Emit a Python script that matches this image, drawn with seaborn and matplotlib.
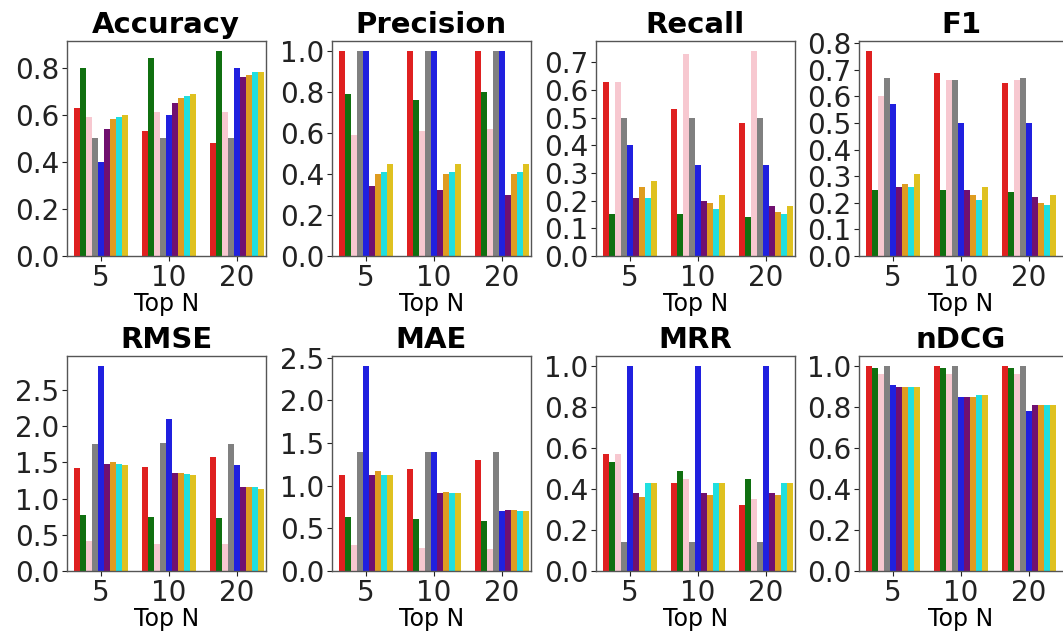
import matplotlib
matplotlib.use("Agg")
import matplotlib.pyplot as plt
from matplotlib.ticker import MultipleLocator
import numpy as np
import pandas as pd
import seaborn as sns

# ---------------- data ----------------
top_n = ["5", "10", "20"]
methods = ["M1", "M2", "M3", "M4", "M5", "M6", "M7", "M8", "M9"]
colors = ["red", "green", "pink", "gray", "blue", "purple", "orange", "cyan", "gold"]

# each row = one Top-N group (5, 10, 20); each column = one method
accuracy = [[0.63, 0.80, 0.59, 0.50, 0.40, 0.54, 0.58, 0.59, 0.60],
            [0.53, 0.84, 0.61, 0.50, 0.60, 0.65, 0.67, 0.68, 0.69],
            [0.48, 0.87, 0.61, 0.50, 0.80, 0.76, 0.77, 0.78, 0.78]]
precision = [[1.00, 0.79, 0.59, 1.00, 1.00, 0.34, 0.40, 0.41, 0.45],
             [1.00, 0.76, 0.61, 1.00, 1.00, 0.32, 0.40, 0.41, 0.45],
             [1.00, 0.80, 0.62, 1.00, 1.00, 0.30, 0.40, 0.41, 0.45]]
recall = [[0.63, 0.15, 0.63, 0.50, 0.40, 0.21, 0.25, 0.21, 0.27],
          [0.53, 0.15, 0.73, 0.50, 0.33, 0.20, 0.19, 0.17, 0.22],
          [0.48, 0.14, 0.74, 0.50, 0.33, 0.18, 0.16, 0.15, 0.18]]
f1 = [[0.77, 0.25, 0.60, 0.67, 0.57, 0.26, 0.27, 0.26, 0.31],
      [0.69, 0.25, 0.66, 0.66, 0.50, 0.25, 0.23, 0.21, 0.26],
      [0.65, 0.24, 0.66, 0.67, 0.50, 0.22, 0.20, 0.19, 0.23]]
rmse = [[1.42, 0.78, 0.41, 1.75, 2.83, 1.48, 1.50, 1.48, 1.46],
        [1.44, 0.75, 0.38, 1.77, 2.10, 1.35, 1.35, 1.34, 1.32],
        [1.58, 0.73, 0.38, 1.75, 1.47, 1.16, 1.16, 1.16, 1.14]]
mae = [[1.13, 0.63, 0.30, 1.39, 2.40, 1.13, 1.17, 1.13, 1.12],
       [1.19, 0.61, 0.27, 1.39, 1.40, 0.91, 0.93, 0.91, 0.91],
       [1.30, 0.59, 0.26, 1.39, 0.70, 0.71, 0.71, 0.70, 0.70]]
mrr = [[0.57, 0.53, 0.57, 0.14, 1.00, 0.38, 0.36, 0.43, 0.43],
       [0.43, 0.49, 0.45, 0.14, 1.00, 0.38, 0.37, 0.43, 0.43],
       [0.32, 0.45, 0.35, 0.14, 1.00, 0.38, 0.37, 0.43, 0.43]]
ndcg = [[1.00, 0.99, 0.96, 1.00, 0.91, 0.90, 0.90, 0.90, 0.90],
        [1.00, 0.99, 0.96, 1.00, 0.85, 0.85, 0.85, 0.86, 0.86],
        [1.00, 0.99, 0.96, 1.00, 0.78, 0.81, 0.81, 0.81, 0.81]]

metric_names = ["Accuracy", "Precision", "Recall", "F1", "RMSE", "MAE", "MRR", "nDCG"]
metric_values = [accuracy, precision, recall, f1, rmse, mae, mrr, ndcg]
tick_steps = [0.2, 0.2, 0.1, 0.1, 0.5, 0.5, 0.2, 0.2]

# ---------------- figure ----------------
W, H = 1063, 631
fig = plt.figure(figsize=(W / 100, H / 100), dpi=100)
plt.rcParams['font.family'] = ['DejaVu Sans']

px_per_unit = 68.0
col_left = [67, 332, 596, 859]
row_bottom = [256, 571]
ax_h = 215

for i, (name, vals, step) in enumerate(zip(metric_names, metric_values, tick_steps)):
    r, c = divmod(i, 4)
    last_col = (c == 3)
    xmax = 2.5 if last_col else 2.42
    w = (xmax + 0.5) * px_per_unit
    ax = fig.add_axes([col_left[c] / W, (H - row_bottom[r]) / H, w / W, ax_h / H])

    rows = []
    for g, grp in enumerate(top_n):
        for m, meth in enumerate(methods):
            rows.append({"Top N": grp, "Method": meth, "Value": vals[g][m]})
    df = pd.DataFrame(rows)

    sns.barplot(data=df, x="Top N", y="Value", hue="Method", order=top_n,
                hue_order=methods, palette=colors, ax=ax, legend=False)
    ymax = max(max(v) for v in vals) * 1.05
    ax.set_ylim(0, ymax)
    ax.set_xlim(-0.5, xmax)
    ax.yaxis.set_major_locator(MultipleLocator(step))
    ax.set_title(name, fontsize=21, fontweight="bold", pad=6)
    ax.set_xlabel("Top N", fontsize=17, labelpad=0)
    ax.set_ylabel("")
    ax.tick_params(axis="both", labelsize=20, colors="#222222", pad=2)
    for sp in ax.spines.values():
        sp.set_color("#555555")
        sp.set_linewidth(1.0)
    if last_col:
        ax.spines["right"].set_visible(False)

fig.savefig("out.png", dpi=100)
